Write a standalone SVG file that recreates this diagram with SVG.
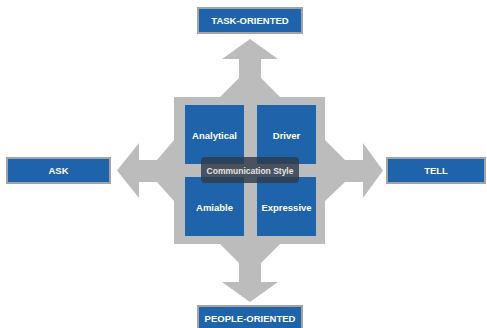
<svg xmlns="http://www.w3.org/2000/svg" width="487" height="328" viewBox="0 0 487 328">
<style>
.lbl rect{fill:#1f63aa;stroke:#a3a3a3;stroke-width:2}
.lbl text{font-family:"Liberation Sans",Arial,sans-serif;font-weight:bold;font-size:9.5px;fill:#fff;text-anchor:middle}
.q rect{fill:#1f63aa}
.q text{font-family:"Liberation Sans",Arial,sans-serif;font-weight:bold;font-size:9.5px;fill:#fff;text-anchor:middle}
</style>
<rect width="487" height="328" fill="#fff"/>
<g id="connectors">
<polygon fill="#bcbcbc" points="174,97 220,97 239,78 239,59 222,59 250,39 278,59 261,59 261,78 280,97 325,97 325,140 345,160 363,160 363,143 383,170.5 363,198 363,182 345,182 325,201 325,244 280,244 261,263 261,282 278,282 250,302 222,282 239,282 239,263 220,244 174,244 174,201 157,182 139,182 139,198 117,170.5 139,143 139,160 157,160 174,140"/>
</g>
<g id="analytical" class="q"><rect x="185" y="105" width="59" height="59"/><text x="214.5" y="138.5">Analytical</text></g>
<g id="driver" class="q"><rect x="257" y="105" width="59" height="59"/><text x="286.5" y="138.5">Driver</text></g>
<g id="amiable" class="q"><rect x="185" y="177" width="59" height="59"/><text x="214.5" y="210.5">Amiable</text></g>
<g id="expressive" class="q"><rect x="257" y="177" width="59" height="59"/><text x="286.5" y="210.5">Expressive</text></g>
<g id="communication-style"><rect x="201" y="157" width="98" height="26" rx="4" fill="#2f3b49" fill-opacity="0.82"/><text x="250" y="173.5" font-family="Liberation Sans,Arial,sans-serif" font-weight="bold" font-size="8.5" fill="#e4e4e4" text-anchor="middle">Communication Style</text></g>
<g id="task-oriented" class="lbl"><rect x="198" y="8" width="104" height="25"/><text x="250" y="24">TASK-ORIENTED</text></g>
<g id="people-oriented" class="lbl"><rect x="198" y="306" width="104" height="24"/><text x="250" y="322">PEOPLE-ORIENTED</text></g>
<g id="ask" class="lbl"><rect x="7" y="158" width="103" height="25"/><text x="58.5" y="174">ASK</text></g>
<g id="tell" class="lbl"><rect x="387" y="158" width="98" height="25"/><text x="436" y="174">TELL</text></g>
</svg>
